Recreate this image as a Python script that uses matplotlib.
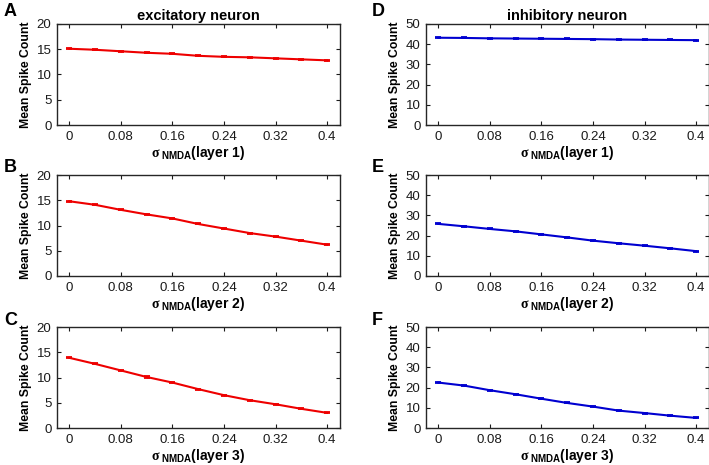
import numpy as np
import matplotlib
matplotlib.use('Agg')
import matplotlib.pyplot as plt

plt.rcParams['font.family'] = ['Liberation Sans', 'DejaVu Sans']
plt.rcParams['mathtext.fontset'] = 'custom'
plt.rcParams['mathtext.rm'] = 'Liberation Sans'
plt.rcParams['mathtext.bf'] = 'Liberation Sans:bold'
plt.rcParams['mathtext.it'] = 'Liberation Serif:bold'

# sigma_NMDA values
sigma = [0, 0.04, 0.08, 0.12, 0.16, 0.20, 0.24, 0.28, 0.32, 0.36, 0.40]
xticks = [0, 0.08, 0.16, 0.24, 0.32, 0.4]
xtick_labels = ['0', '0.08', '0.16', '0.24', '0.32', '0.4']

# excitatory neuron, layers 1-3
exc_l1 = [15.1, 14.9, 14.6, 14.3, 14.1, 13.7, 13.5, 13.4, 13.2, 13.0, 12.8]
exc_l2 = [14.8, 14.1, 13.1, 12.2, 11.4, 10.3, 9.4, 8.5, 7.8, 7.0, 6.2]
exc_l3 = [13.9, 12.7, 11.4, 10.1, 9.0, 7.7, 6.5, 5.5, 4.7, 3.8, 3.0]
# inhibitory neuron, layers 1-3
inh_l1 = [43.2, 43.1, 42.9, 42.8, 42.7, 42.6, 42.5, 42.3, 42.2, 42.1, 42.0]
inh_l2 = [25.8, 24.6, 23.3, 22.1, 20.6, 19.1, 17.5, 16.2, 15.0, 13.7, 12.3]
inh_l3 = [22.5, 21.0, 18.7, 16.7, 14.5, 12.4, 10.6, 8.6, 7.4, 6.1, 5.0]

# tiny error bars
exc_err = 0.1
inh_err = 0.25

fig = plt.figure(figsize=(7.09, 4.65), dpi=100)

left_x, right_x = 57 / 709, 426 / 709
w = 283 / 709
h = 101 / 465
bottoms = [1 - 125 / 465, 1 - 276 / 465, 1 - 428 / 465]

panels = [
    ('A', left_x, 0, exc_l1, '#ee0000', exc_err, 20, [0, 5, 10, 15, 20], 1),
    ('B', left_x, 1, exc_l2, '#ee0000', exc_err, 20, [0, 5, 10, 15, 20], 2),
    ('C', left_x, 2, exc_l3, '#ee0000', exc_err, 20, [0, 5, 10, 15, 20], 3),
    ('D', right_x, 0, inh_l1, '#0000d0', inh_err, 50, [0, 10, 20, 30, 40, 50], 1),
    ('E', right_x, 1, inh_l2, '#0000d0', inh_err, 50, [0, 10, 20, 30, 40, 50], 2),
    ('F', right_x, 2, inh_l3, '#0000d0', inh_err, 50, [0, 10, 20, 30, 40, 50], 3),
]

for letter, x0, row, vals, col, err, ymax, yticks, layer in panels:
    ax = fig.add_axes([x0, bottoms[row], w, h])
    ax.errorbar(sigma, vals, yerr=err, color=col, lw=1.5, capsize=2.5,
                elinewidth=1.0, capthick=1.3)
    ax.set_xlim(-0.019, 0.42)
    ax.set_ylim(0, ymax)
    ax.set_xticks(xticks)
    ax.set_xticklabels(xtick_labels)
    ax.set_yticks(yticks)
    ax.tick_params(direction='in', length=3, width=0.8, top=True, right=True,
                   labelsize=9.5, colors='#1a1a1a', pad=4)
    for s in ax.spines.values():
        s.set_linewidth(1.0)
        s.set_color('#262626')
    ax.set_ylabel('Mean Spike Count', fontsize=8.8, fontweight='bold', labelpad=3)
    ax.set_xlabel(r'$\sigma_{\mathbf{\ NMDA}}$(layer %d)' % layer, fontsize=10,
                  fontweight='bold', labelpad=1)
    if row == 0:
        ax.set_title('excitatory neuron' if x0 == left_x else 'inhibitory neuron',
                     fontsize=10.5, fontweight='bold', pad=3)
    lx = 4 / 709 if x0 == left_x else 372 / 709
    ly = [12, 167, 320][row]
    fig.text(lx, 1 - ly / 465, letter, fontsize=13, fontweight='bold',
             va='center', ha='left')

fig.savefig('out.png', dpi=100)
